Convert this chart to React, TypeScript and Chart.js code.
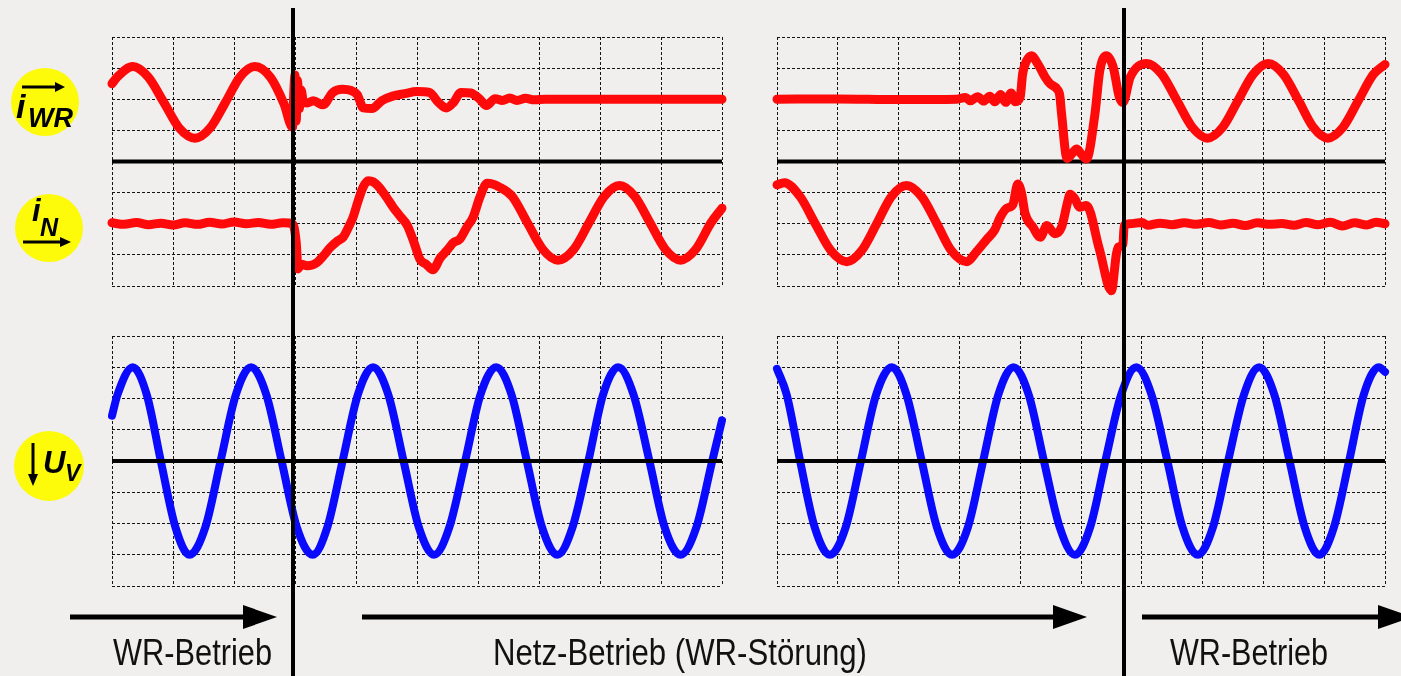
import React, { useEffect, useRef } from "react";
import { Chart, registerables } from "chart.js";
Chart.register(...registerables);

// ---------- data (x in scope divisions, y in divisions) ----------
const xTicks = [0, 1, 2, 3, 4, 5, 6, 7, 8, 9, 10];
const yTicks = [-4, -3, -2, -1, 0, 1, 2, 3, 4];
const eventTimes = [2.97, 5.71]; // left panel, right panel
const zeroLine: [number, number][] = [[0, 0], [10, 0]];

const iwrLeft: [number, number][] = [
  [0, 2.5], [0.09, 2.72], [0.34, 3.05], [0.59, 2.72], [0.85, 1.9], [1.1, 1.08], [1.36, 0.75],
  [1.61, 1.08], [1.86, 1.9], [2.1, 2.72], [2.34, 3.05], [2.6, 2.7], [2.82, 1.85], [2.96, 1.1],
  [2.98, 2.2], [3.0, 2.78], [3.02, 1.3], [3.04, 2.6], [3.07, 1.7], [3.1, 2.3], [3.14, 1.9],
  [3.2, 1.88], [3.3, 1.95], [3.46, 1.82], [3.62, 2.22], [3.78, 2.32], [3.92, 2.28], [4.02, 2.15],
  [4.12, 1.72], [4.26, 1.7], [4.42, 1.95], [4.6, 2.1], [4.8, 2.18], [5.0, 2.25], [5.2, 2.22],
  [5.36, 1.88], [5.48, 1.72], [5.6, 1.9], [5.72, 2.22], [5.88, 2.2], [6.02, 2.02], [6.14, 1.8],
  [6.28, 2.02], [6.4, 1.96], [6.52, 2.04], [6.64, 1.96], [6.78, 2.03], [6.92, 1.98], [7.1, 2.0],
  [10, 2.0],
];
const inLeft: [number, number][] = [
  [0, -1.97], [0.2, -2.02], [0.4, -1.96], [0.6, -2.03], [0.8, -1.98], [1.0, -2.04], [1.2, -1.97],
  [1.4, -2.02], [1.6, -1.95], [1.8, -2.01], [2.0, -1.94], [2.2, -2.0], [2.4, -1.96], [2.6, -2.02],
  [2.8, -1.97], [2.96, -2.0], [3.02, -2.6], [3.05, -3.45], [3.1, -3.3], [3.2, -3.35], [3.36, -3.25],
  [3.5, -2.95], [3.57, -2.78], [3.7, -2.55], [3.79, -2.43], [3.88, -2.1], [3.95, -1.8], [4.03, -1.3],
  [4.11, -0.85], [4.2, -0.62], [4.28, -0.65], [4.39, -0.85], [4.5, -1.15], [4.61, -1.47], [4.72, -1.75],
  [4.84, -2.05], [4.95, -2.6], [5.05, -3.15], [5.15, -3.3], [5.26, -3.48], [5.38, -3.1], [5.49, -2.86],
  [5.6, -2.6], [5.7, -2.5], [5.82, -2.1], [5.92, -1.79], [6.03, -1.15], [6.15, -0.7], [6.25, -0.73],
  [6.33, -0.8], [6.56, -1.12], [6.81, -1.97], [7.06, -2.82], [7.31, -3.17], [7.57, -2.82], [7.82, -1.97],
  [8.07, -1.12], [8.32, -0.77], [8.57, -1.12], [8.82, -1.97], [9.07, -2.82], [9.32, -3.17], [9.57, -2.82],
  [9.82, -1.97], [10, -1.5],
];
const iwrRight: [number, number][] = [
  [0, 2.0], [1.0, 2.01], [2.0, 1.99], [2.96, 2.0], [3.1, 2.06], [3.18, 1.95], [3.3, 2.08], [3.4, 1.94],
  [3.5, 2.1], [3.58, 1.92], [3.68, 2.15], [3.76, 1.9], [3.85, 2.2], [3.92, 1.92], [4.0, 2.07],
  [4.04, 2.82], [4.11, 3.25], [4.19, 3.4], [4.27, 3.2], [4.33, 3.0], [4.41, 2.71], [4.49, 2.5],
  [4.6, 2.34], [4.65, 2.13], [4.68, 1.54], [4.77, 0.1], [4.85, 0.25], [4.93, 0.4], [5.0, 0.25],
  [5.09, 0.08], [5.23, 1.54], [5.31, 2.93], [5.42, 3.4], [5.53, 3.03], [5.63, 2.07], [5.69, 1.9],
  [5.81, 2.71], [6.08, 3.15], [6.33, 2.8], [6.58, 1.95], [6.83, 1.1], [7.08, 0.75], [7.33, 1.1],
  [7.58, 1.95], [7.83, 2.8], [8.08, 3.15], [8.33, 2.8], [8.58, 1.95], [8.82, 1.1], [9.06, 0.75],
  [9.31, 1.1], [9.56, 1.95], [9.81, 2.8], [10, 3.12],
];
const inRight: [number, number][] = [
  [0, -0.75], [0.12, -0.68], [0.38, -1.13], [0.63, -2.0], [0.89, -2.87], [1.15, -3.22], [1.39, -2.87],
  [1.64, -2.0], [1.88, -1.13], [2.13, -0.77], [2.38, -1.13], [2.63, -2.0], [2.87, -2.87], [3.12, -3.22],
  [3.28, -2.9], [3.45, -2.5], [3.58, -2.2], [3.67, -1.8], [3.78, -1.5], [3.88, -1.38], [3.96, -0.72],
  [4.02, -1.0], [4.08, -1.67], [4.21, -2.11], [4.33, -2.43], [4.44, -2.06], [4.57, -2.32], [4.68, -2.11],
  [4.78, -1.3], [4.82, -1.05], [4.9, -1.2], [4.98, -1.47], [5.09, -1.41], [5.3, -2.8], [5.5, -4.15],
  [5.58, -3.0], [5.61, -2.75], [5.69, -2.65], [5.71, -2.05], [5.8, -2.0], [6.0, -1.96], [6.1, -2.05],
  [6.3, -1.98], [6.5, -2.03], [6.7, -1.97], [6.9, -2.02], [7.1, -1.96], [7.3, -2.04], [7.5, -1.98],
  [7.7, -2.06], [7.9, -1.97], [8.1, -2.02], [8.3, -1.99], [8.5, -2.05], [8.7, -1.96], [8.9, -2.03],
  [9.1, -1.95], [9.3, -2.07], [9.5, -1.97], [9.7, -2.04], [9.85, -1.95], [10, -2.0],
];
const uvLeft: [number, number][] = [
  [0, 1.45], [0.09, 2.12], [0.34, 3.0], [0.57, 2.12], [0.8, 0], [1.04, -2.12], [1.27, -3.0],
  [1.53, -2.12], [1.78, 0], [2.03, 2.12], [2.28, 3.0], [2.53, 2.12], [2.78, 0], [3.03, -2.12],
  [3.29, -3.0], [3.53, -2.12], [3.78, 0], [4.03, 2.12], [4.28, 3.0], [4.53, 2.12], [4.78, 0],
  [5.03, -2.12], [5.28, -3.0], [5.53, -2.12], [5.79, 0], [6.04, 2.12], [6.3, 3.0], [6.55, 2.12],
  [6.8, 0], [7.05, -2.12], [7.3, -3.0], [7.55, -2.12], [7.81, 0], [8.05, 2.12], [8.3, 3.0],
  [8.55, 2.12], [8.81, 0], [9.06, -2.12], [9.32, -3.0], [9.58, -2.12], [9.84, 0], [10, 1.3],
];
const uvRight: [number, number][] = [
  [0, 2.95], [0.16, 2.12], [0.38, 0], [0.62, -2.12], [0.87, -3.0], [1.13, -2.12], [1.38, 0],
  [1.63, 2.12], [1.89, 3.0], [2.13, 2.12], [2.38, 0], [2.63, -2.12], [2.88, -3.0], [3.14, -2.12],
  [3.39, 0], [3.64, 2.12], [3.89, 3.0], [4.14, 2.12], [4.39, 0], [4.65, -2.12], [4.9, -3.0],
  [5.15, -2.12], [5.4, 0], [5.66, 2.12], [5.91, 3.0], [6.16, 2.12], [6.42, 0], [6.67, -2.12],
  [6.92, -3.0], [7.17, -2.12], [7.42, 0], [7.68, 2.12], [7.93, 3.0], [8.18, 2.12], [8.43, 0],
  [8.68, -2.12], [8.92, -3.0], [9.16, -2.12], [9.41, 0], [9.65, 2.12], [9.9, 3.0], [10, 2.85],
];

const phaseLabels = ["WR-Betrieb", "Netz-Betrieb (WR-Störung)", "WR-Betrieb"];

// ---------- styling ----------
const BG = "#f0efed";
const RED = "#ff0a0a";
const BLUE = "#0a0aff";

type Series = { pts: [number, number][]; color: string; width: number; order: number; curve?: boolean };

const eventLinePlugin = {
  id: "eventLine",
  afterDraw(chart: any, _args: any, opts: any) {
    if (opts == null || opts.value == null) return;
    const x = Math.round(chart.scales.x.getPixelForValue(opts.value));
    const ctx = chart.ctx;
    ctx.save();
    ctx.strokeStyle = "#000";
    ctx.lineWidth = 4;
    ctx.beginPath();
    ctx.moveTo(x, opts.top ?? 0);
    ctx.lineTo(x, chart.height);
    ctx.stroke();
    ctx.restore();
  },
};

function Panel(props: {
  left: number; top: number; width: number; height: number;
  pad: { left: number; right: number; top: number; bottom: number };
  series: Series[]; eventTime: number; lineTop: number;
}) {
  const ref = useRef<HTMLCanvasElement | null>(null);
  useEffect(() => {
    if (!ref.current) return;
    const gridCommon = { color: "#141414", lineWidth: 1, drawTicks: false };
    const chart = new Chart(ref.current, {
      type: "line",
      data: {
        datasets: props.series.map((s) => ({
          data: s.pts.map(([x, y]) => ({ x, y })),
          borderColor: s.color,
          borderWidth: s.width,
          pointRadius: 0,
          fill: false,
          clip: false as any,
          cubicInterpolationMode: s.curve === false ? "default" : "monotone",
          tension: 0,
          borderCapStyle: s.curve === false ? "butt" : "round",
          borderJoinStyle: "round",
          order: s.order,
        })) as any,
      },
      options: {
        animation: false,
        responsive: false,
        devicePixelRatio: 1,
        events: [],
        layout: { padding: props.pad },
        plugins: {
          legend: { display: false },
          tooltip: { enabled: false },
          eventLine: { value: props.eventTime, top: props.lineTop },
        } as any,
        scales: {
          x: {
            type: "linear", min: 0, max: 10,
            afterBuildTicks: (s: any) => { s.ticks = xTicks.map((v) => ({ value: v })); },
            ticks: { display: false },
            grid: gridCommon,
            border: { display: false, dash: [3, 2] },
          },
          y: {
            type: "linear", min: -4, max: 4,
            afterBuildTicks: (s: any) => { s.ticks = yTicks.map((v) => ({ value: v })); },
            ticks: { display: false },
            grid: gridCommon,
            border: { display: false, dash: [3, 2] },
          },
        } as any,
      },
      plugins: [eventLinePlugin as any],
    });
    return () => chart.destroy();
  }, []);
  return (
    <canvas
      ref={ref}
      width={props.width}
      height={props.height}
      style={{ position: "absolute", left: props.left, top: props.top, width: props.width, height: props.height }}
    />
  );
}

function Badge(props: { cx: number; cy: number; r: number; children: any }) {
  return (
    <g>
      <circle cx={props.cx} cy={props.cy} r={props.r} fill="#fdfa0a" />
      {props.children}
    </g>
  );
}

export default function App() {
  const leftPadH = { left: 52, right: 27 };
  const rightPadH = { left: 28, right: 16 };
  const topPadV = { top: 37, bottom: 25 };
  const botPadV = { top: 25, bottom: 90 };
  const zero = (w: number): Series => ({ pts: zeroLine, color: "#000", width: w, order: 5, curve: false });
  const topSeriesL: Series[] = [
    { pts: iwrLeft, color: RED, width: 9, order: 1 },
    { pts: inLeft, color: RED, width: 9, order: 1 },
    zero(4),
  ];
  const topSeriesR: Series[] = [
    { pts: iwrRight, color: RED, width: 9, order: 1 },
    { pts: inRight, color: RED, width: 9, order: 1 },
    zero(4),
  ];
  const botSeriesL: Series[] = [{ ...zero(4), order: 0 }, { pts: uvLeft, color: BLUE, width: 8, order: 2 }];
  const botSeriesR: Series[] = [{ ...zero(4), order: 0 }, { pts: uvRight, color: BLUE, width: 8, order: 2 }];

  const font = "'Liberation Sans', Arial, sans-serif";
  return (
    <div style={{ position: "absolute", left: 0, top: 0, width: 1401, height: 676, background: BG, overflow: "hidden" }}>
      <Panel left={60} top={0} width={689} height={311} pad={{ ...leftPadH, ...topPadV }} series={topSeriesL} eventTime={eventTimes[0]} lineTop={8} />
      <Panel left={60} top={311} width={689} height={365} pad={{ ...leftPadH, ...botPadV }} series={botSeriesL} eventTime={eventTimes[0]} lineTop={0} />
      <Panel left={749} top={0} width={652} height={311} pad={{ ...rightPadH, ...topPadV }} series={topSeriesR} eventTime={eventTimes[1]} lineTop={8} />
      <Panel left={749} top={311} width={652} height={365} pad={{ ...rightPadH, ...botPadV }} series={botSeriesR} eventTime={eventTimes[1]} lineTop={0} />
      <svg width={1401} height={676} style={{ position: "absolute", left: 0, top: 0, pointerEvents: "none" }}>
        {/* phase arrows */}
        <line x1={70} y1={617} x2={250} y2={617} stroke="#000" strokeWidth={5} />
        <polygon points="243,605 277,617 243,629" fill="#000" />
        <line x1={362} y1={617} x2={1060} y2={617} stroke="#000" strokeWidth={5} />
        <polygon points="1053,605 1087,617 1053,629" fill="#000" />
        <line x1={1142} y1={617} x2={1385} y2={617} stroke="#000" strokeWidth={5} />
        <polygon points="1378,605 1412,617 1378,629" fill="#000" />
        <text x={113} y={665} fontFamily={font} fontSize={36} fill="#111" textLength={159} lengthAdjust="spacingAndGlyphs">{phaseLabels[0]}</text>
        <text x={493} y={665} fontFamily={font} fontSize={36} fill="#111" textLength={374} lengthAdjust="spacingAndGlyphs">{phaseLabels[1]}</text>
        <text x={1170} y={665} fontFamily={font} fontSize={36} fill="#111" textLength={158} lengthAdjust="spacingAndGlyphs">{phaseLabels[2]}</text>
        {/* badges */}
        <Badge cx={45} cy={102} r={34}>
          <line x1={22} y1={87} x2={56} y2={87} stroke="#000" strokeWidth={3} />
          <polygon points="55,82 65,87 55,92" fill="#000" />
          <text x={16} y={118} fontFamily={font} fontSize={34} fontWeight="bold" fontStyle="italic" fill="#000">i</text>
          <text x={28} y={127} fontFamily={font} fontSize={27} fontWeight="bold" fontStyle="italic" fill="#000">WR</text>
        </Badge>
        <Badge cx={49} cy={228} r={34}>
          <text x={32} y={221} fontFamily={font} fontSize={31} fontWeight="bold" fontStyle="italic" fill="#000">i</text>
          <text x={40} y={236} fontFamily={font} fontSize={25} fontWeight="bold" fontStyle="italic" fill="#000">N</text>
          <line x1={23} y1={242} x2={61} y2={242} stroke="#000" strokeWidth={3} />
          <polygon points="60,237 71,242 60,247" fill="#000" />
        </Badge>
        <Badge cx={49} cy={466} r={35}>
          <line x1={33} y1={443} x2={33} y2={476} stroke="#000" strokeWidth={3} />
          <polygon points="28,474 33,486 38,474" fill="#000" />
          <text x={43} y={473} fontFamily={font} fontSize={31} fontWeight="bold" fontStyle="italic" fill="#000">U</text>
          <text x={65} y={481} fontFamily={font} fontSize={23} fontWeight="bold" fontStyle="italic" fill="#000">V</text>
        </Badge>
      </svg>
    </div>
  );
}
